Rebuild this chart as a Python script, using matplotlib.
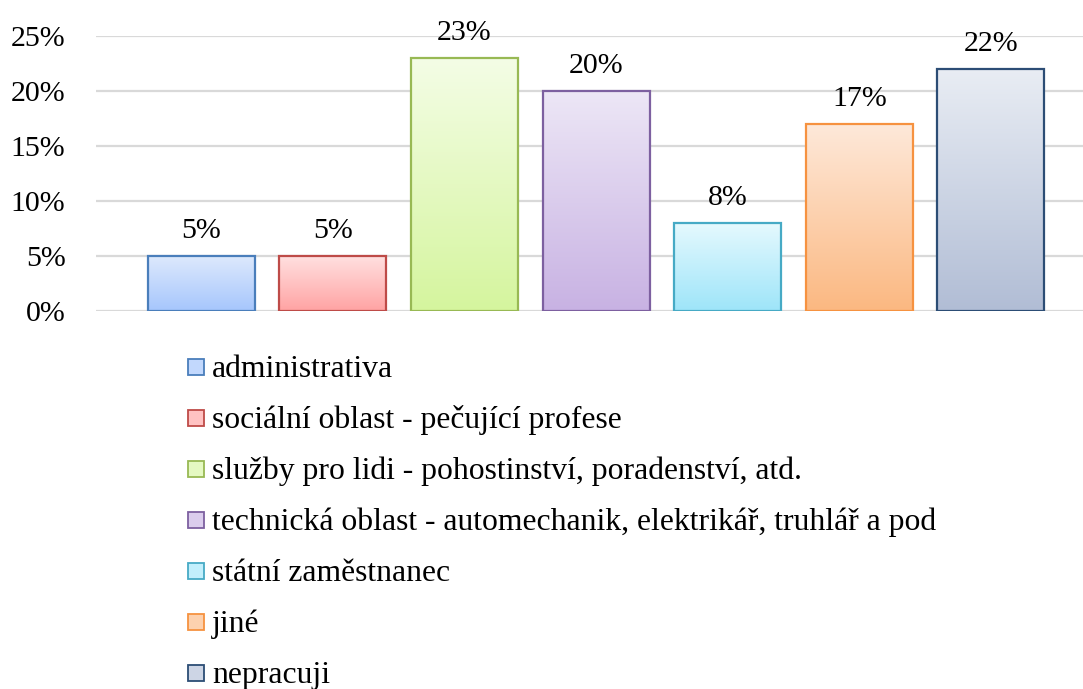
import numpy as np
import matplotlib
matplotlib.use('Agg')
import matplotlib.pyplot as plt
from matplotlib.colors import to_rgb
from matplotlib.patches import Rectangle

categories = ['administrativa',
              'sociální oblast - pečující profese',
              'služby pro lidi - pohostinství, poradenství, atd.',
              'technická oblast - automechanik, elektrikář, truhlář a pod',
              'státní zaměstnanec',
              'jiné',
              'nepracuji']
values = [5, 5, 23, 20, 8, 17, 22]
top_colors = ['#dde9fd', '#ffe0e0', '#f4fde6', '#ede7f6', '#e5f9fe', '#fee9da', '#e9edf4']
bottom_colors = ['#a6c6fc', '#ffa3a3', '#d5f59e', '#c8b2e3', '#9ee5f9', '#fbb881', '#b1bdd5']
edge_colors = ['#4a7ebb', '#be4b48', '#98b954', '#7d60a0', '#46aac5', '#f69240', '#2c4d75']
yticks = [0, 5, 10, 15, 20, 25]

plt.rcParams['font.family'] = ['Liberation Serif', 'DejaVu Serif']
fs = 21.5
fs_leg = 22.8

fig = plt.figure(figsize=(10.83, 6.89), dpi=100)
W, H = 1083, 689
ax = fig.add_axes([96 / W, 1 - 311 / H, 1 - 96 / W, (311 - 36) / H])

x = np.arange(len(values))
width = 0.814
bars = ax.bar(x, values, width=width, facecolor='none', edgecolor=edge_colors,
              linewidth=1.6, zorder=3)

for bar, c0, c1 in zip(bars, top_colors, bottom_colors):
    t = np.linspace(0, 1, 256)[:, None, None]
    grad = (1 - t) * np.array(to_rgb(c0)) + t * np.array(to_rgb(c1))
    x0 = bar.get_x()
    h = bar.get_height()
    im = ax.imshow(grad, extent=(x0, x0 + width, 0, h), origin='upper',
                   aspect='auto', zorder=2, interpolation='bilinear')
    im.set_clip_path(bar)

for bar, v in zip(bars, values):
    ax.annotate('%d%%' % v, (bar.get_x() + width / 2, v), xytext=(0, 13),
                textcoords='offset points', ha='center', va='baseline', fontsize=fs)

ax.set_xlim(-0.80, 6.70)
ax.set_ylim(0, 25)
ax.set_yticks(yticks)
ax.set_yticklabels(['%d%%' % t for t in yticks], fontsize=fs)
ax.set_xticks([])
ax.tick_params(axis='y', length=0, pad=22)
ax.grid(axis='y', color='#d9d9d9', linewidth=1.6, zorder=0)
ax.set_axisbelow(True)
for s in ax.spines.values():
    s.set_visible(False)

# legend, one entry per row
for i, (lab, c0, c1, ec) in enumerate(zip(categories, top_colors, bottom_colors, edge_colors)):
    base = 377 + 51 * i
    mid = np.array(to_rgb(c0)) * 0.5 + np.array(to_rgb(c1)) * 0.5
    fig.patches.append(Rectangle((188 / W, 1 - (base - 2) / H), 16 / W, 16 / H,
                                 transform=fig.transFigure, facecolor=mid,
                                 edgecolor=ec, linewidth=1.3))
    fig.text(212 / W, 1 - base / H, lab, fontsize=fs_leg, va='baseline', ha='left')

fig.savefig('out.png', dpi=100)
